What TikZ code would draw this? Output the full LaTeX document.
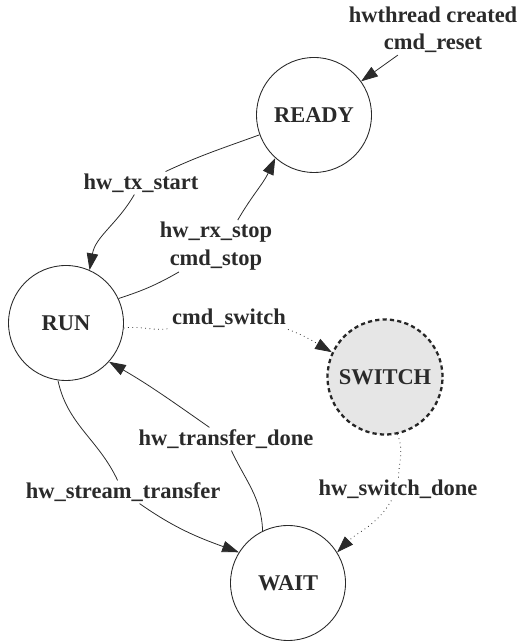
\documentclass[tikz,border=0pt]{standalone}
\usepackage{fontspec}
\setmainfont{Liberation Serif}
\usetikzlibrary{arrows.meta}
\definecolor{ink}{HTML}{2A2A2A}
\definecolor{swfill}{HTML}{E6E6E6}
\tikzstyle{state}=[circle,draw=ink,line width=0.5pt,minimum size=2.3cm,inner sep=0pt,text=ink,font=\fontsize{12.8}{15.5}\selectfont\bfseries]
\tikzstyle{swstate}=[state,fill=swfill,draw=black!85,line width=1.3pt,dash pattern=on 2.4pt off 1.8pt]
\tikzstyle{lbl}=[inner sep=1pt,align=center,text=ink,font=\fontsize{12.8}{15.5}\selectfont\bfseries]
\tikzstyle{trans}=[ink,line width=0.45pt]

\begin{document}
\begin{tikzpicture}[>={Triangle[length=9.5pt,width=6.5pt]}]
\useasboundingbox (0, 0) rectangle (10.42, 12.82);
\node[state] at (6.28, 10.52) (ready) {READY};
\node[state] at (1.32, 6.36) (run) {RUN};
\node[swstate] at (7.70, 5.28) (switch) {SWITCH};
\node[state] at (5.76, 1.16) (wait) {WAIT};
\node[lbl] at (8.66, 12.22) (init) {hwthread created\\cmd\_reset};
\node[lbl] at (2.82, 9.16) (txstart) {hw\_tx\_start};
\node[lbl] at (4.32, 7.90) (rxstop) {hw\_rx\_stop\\cmd\_stop};
\node[lbl] at (4.58, 6.46) (cmdswitch) {cmd\_switch};
\node[lbl] at (4.52, 4.04) (xferdone) {hw\_transfer\_done};
\node[lbl] at (2.46, 2.98) (streamxfer) {hw\_stream\_transfer};
\node[lbl] at (7.96, 3.04) (switchdone) {hw\_switch\_done};
% start
\draw[trans,->] (init) -- (ready);
% READY -> RUN
\draw[trans] (ready) to[out=200, in=25] (txstart);
\draw[trans,->] (txstart.240) to[out=240, in=80] (run.66);
% RUN -> READY
\draw[trans] (run.25) to[out=18, in=210] (rxstop.215);
\draw[trans,->] (rxstop.50) to[out=60, in=245] (ready.228);
% RUN -> SWITCH
\draw[trans,dotted] (run.355) to[out=8, in=190] (cmdswitch);
\draw[trans,dotted,->] (cmdswitch.south east) to[out=-20, in=150] (switch.155);
% WAIT -> RUN
\draw[trans] (wait.116) to[out=92, in=-65] (xferdone);
\draw[trans,->] (xferdone) to[out=145, in=-30] (run.318);
% RUN -> WAIT
\draw[trans] (run.262) to[out=-78, in=115] (streamxfer);
\draw[trans,->] (streamxfer) to[out=-35, in=160] (wait.148);
% SWITCH -> WAIT
\draw[trans,dotted] (switch.282) to[out=-65, in=88] (switchdone);
\draw[trans,dotted,->] (switchdone) to[out=240, in=45] (wait.32);
\end{tikzpicture}
\end{document}
